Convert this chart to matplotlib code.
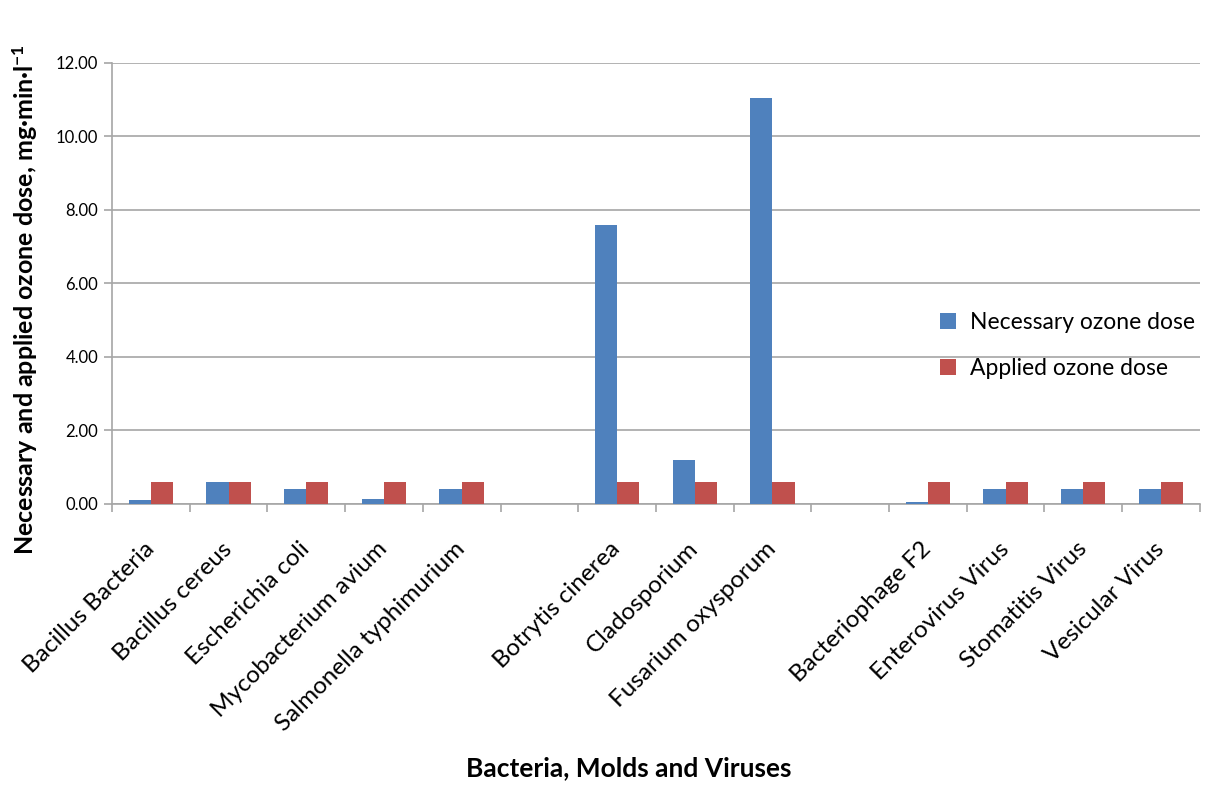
import numpy as np
import matplotlib.pyplot as plt
from matplotlib.ticker import FixedLocator

plt.rcParams['font.family'] = ['Lato', 'DejaVu Sans']
plt.rcParams['mathtext.fontset'] = 'custom'
plt.rcParams['mathtext.rm'] = 'Lato:bold'
plt.rcParams['mathtext.bf'] = 'Lato:bold'
plt.rcParams['mathtext.it'] = 'Lato:bold'

organisms = ['Bacillus Bacteria', 'Bacillus cereus', 'Escherichia coli',
             'Mycobacterium avium', 'Salmonella typhimurium', '',
             'Botrytis cinerea', 'Cladosporium', 'Fusarium oxysporum', '',
             'Bacteriophage F2', 'Enterovirus Virus', 'Stomatitis Virus',
             'Vesicular Virus']
necessary = [0.11, 0.60, 0.41, 0.14, 0.41, np.nan,
             7.60, 1.20, 11.05, np.nan,
             0.05, 0.41, 0.41, 0.41]
applied = [0.60, 0.60, 0.60, 0.60, 0.60, np.nan,
           0.60, 0.60, 0.60, np.nan,
           0.60, 0.60, 0.60, 0.60]

blue = '#4F81BD'
red = '#C0504D'
grid_col = '#A6A6A6'

fig = plt.figure(figsize=(12.1, 7.85), dpi=100)
ax = fig.add_axes([0.0926, 0.358, 0.899, 0.562])

x = np.arange(len(organisms))
w = 1 / 3.5
ax.bar(x - w / 2, necessary, w, color=blue, label='Necessary ozone dose', zorder=3)
ax.bar(x + w / 2, applied, w, color=red, label='Applied ozone dose', zorder=3)

ax.set_xlim(-0.5, len(organisms) - 0.5)
ax.set_ylim(0, 12)
ax.set_yticks(np.arange(0, 12.1, 2))
ax.set_yticklabels(['%.2f' % v for v in np.arange(0, 12.1, 2)], fontsize=12)
ax.yaxis.grid(True, color=grid_col, linewidth=1.2, zorder=0)

ax.set_xticks(x)
ax.set_xticklabels(organisms, rotation=45, ha='right', va='center',
                   rotation_mode='anchor', fontsize=17.5)
ax.xaxis.set_minor_locator(FixedLocator(np.arange(-0.5, len(organisms), 1)))
ax.tick_params(axis='x', which='major', length=0, pad=30)
ax.tick_params(axis='x', which='minor', length=6, color=grid_col, width=1.2)
ax.tick_params(axis='y', length=6, color=grid_col, width=1.2, pad=4)

for s in ['top', 'right']:
    ax.spines[s].set_visible(False)
for s in ['left', 'bottom']:
    ax.spines[s].set_color(grid_col)
    ax.spines[s].set_linewidth(1.2)

ax.set_ylabel('Necessary and applied ozone dose, mg·min·l$^{-1}$',
              fontsize=18, fontweight='bold')
ax.yaxis.set_label_coords(-0.066, 0.463)
fig.text(0.52, 0.006, 'Bacteria, Molds and Viruses', ha='center', va='bottom',
         fontsize=19, fontweight='bold')

ax.legend(loc='center left', bbox_to_anchor=(0.777, 0.56), bbox_transform=fig.transFigure,
          frameon=False, fontsize=16.5, handlelength=0.7, handleheight=0.7,
          handletextpad=0.6, labelspacing=1.1, borderpad=0, borderaxespad=0)

plt.savefig('out.png')
